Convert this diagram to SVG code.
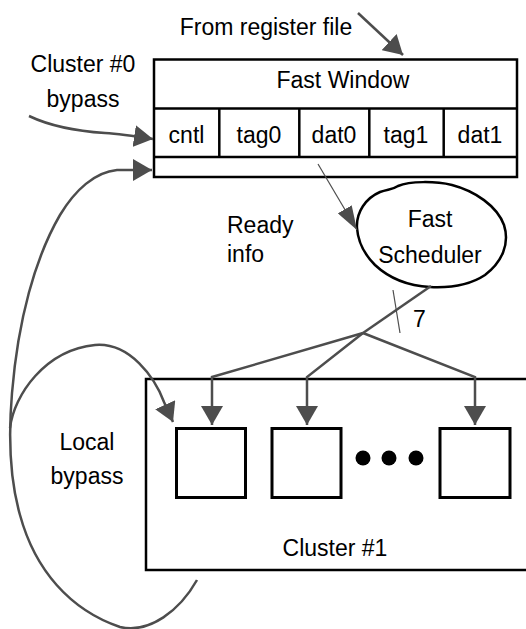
<svg xmlns="http://www.w3.org/2000/svg" width="526" height="629" viewBox="0 0 526 629">
<style>
text{font-family:"Liberation Sans",Arial,sans-serif;font-size:23px;fill:#000}
.c{text-anchor:middle}
.box{fill:none;stroke:#000;stroke-width:2.5}
.sq{fill:none;stroke:#000;stroke-width:3}
.w{fill:none;stroke:#4d4d4d;stroke-width:2.5}
.t{fill:none;stroke:#4d4d4d;stroke-width:1.2}
</style>
<defs>
<marker id="ah" markerUnits="userSpaceOnUse" viewBox="0 0 19 22" refX="19" refY="11" markerWidth="19" markerHeight="22" orient="auto">
<path d="M0,0 L19,11 L0,22 Z" fill="#4d4d4d"/>
</marker>
<marker id="ahn" markerUnits="userSpaceOnUse" viewBox="0 0 24 16" refX="24" refY="8" markerWidth="24" markerHeight="16" orient="auto">
<path d="M0,0 L24,8 L0,16 Z" fill="#4d4d4d"/>
</marker>
</defs>

<g id="labels">
<text class="c" x="266" y="35">From register file</text>
<text class="c" x="83" y="72">Cluster #0</text>
<text class="c" x="83" y="107">bypass</text>
<text x="227" y="233">Ready</text>
<text x="227" y="262">info</text>
<text x="413" y="327">7</text>
<text class="c" x="87" y="450">Local</text>
<text class="c" x="87" y="484">bypass</text>
</g>

<g id="fast-window">
<rect class="box" x="154" y="59.5" width="363" height="117.5"/>
<line class="box" x1="154" y1="108.5" x2="517" y2="108.5"/>
<line class="box" x1="154" y1="157" x2="517" y2="157"/>
<line class="box" x1="219.3" y1="108.5" x2="219.3" y2="157"/>
<line class="box" x1="299.3" y1="108.5" x2="299.3" y2="157"/>
<line class="box" x1="369.3" y1="108.5" x2="369.3" y2="157"/>
<line class="box" x1="443.7" y1="108.5" x2="443.7" y2="157"/>
<text class="c" x="343" y="88">Fast Window</text>
<text class="c" x="186.5" y="143">cntl</text>
<text class="c" x="259" y="143">tag0</text>
<text class="c" x="334" y="143">dat0</text>
<text class="c" x="406" y="143">tag1</text>
<text class="c" x="480" y="143">dat1</text>
</g>

<g id="fast-scheduler">
<path d="M 357 228 C 356 212 366 198 380 192 C 388 189 392 190 398 186 C 410 181 435 181 452 185 C 475 191 497 206 504 225 C 510 244 502 262 485 275 C 470 285 450 288 430 287 C 410 286 390 279 375 265 C 365 255 358 242 357 228 Z" fill="none" stroke="#000" stroke-width="2.5"/>
<text class="c" x="430" y="227">Fast</text>
<text class="c" x="430" y="263">Scheduler</text>
</g>

<g id="cluster1">
<rect class="box" x="146" y="379" width="400" height="191"/>
<rect class="sq" x="176.5" y="428.5" width="69" height="69"/>
<rect class="sq" x="272" y="428.5" width="69" height="69"/>
<rect class="sq" x="440" y="428.5" width="70" height="69"/>
<circle cx="363" cy="458" r="7.5" fill="#000"/>
<circle cx="389" cy="458" r="7.5" fill="#000"/>
<circle cx="416" cy="458" r="7.5" fill="#000"/>
<text class="c" x="335" y="556">Cluster #1</text>
</g>

<g id="connectors">
<path class="w" d="M 358 13 L 403 55" marker-end="url(#ah)"/>
<path class="w" d="M 29 116 C 50 126 75 131 105 133 C 120 134 140 137 153 139" marker-end="url(#ah)"/>
<path class="w" d="M 197 580 C 180 610 150 634 120 627 C 70 610 35 570 20 515 C 10 480 8 440 12 393 C 18 320 35 258 60 215 C 75 190 95 172 117 170 L 152 170" marker-end="url(#ah)"/>
<path class="w" d="M 10 428 C 14 395 45 350 95 345 C 130 342 155 378 164 402 L 173 422" marker-end="url(#ah)"/>
<path class="t" d="M 318 164 L 357 230" marker-end="url(#ahn)"/>
<path class="w" d="M 431 286 L 363 333"/>
<path class="w" d="M 363 333 L 212 377 L 212 425" marker-end="url(#ah)"/>
<path class="w" d="M 363 333 L 307 377 L 307 425" marker-end="url(#ah)"/>
<path class="w" d="M 363 333 L 475 377 L 475 425" marker-end="url(#ah)"/>
<path class="t" d="M 393 290 L 400 333" stroke="#000"/>
</g>
</svg>
